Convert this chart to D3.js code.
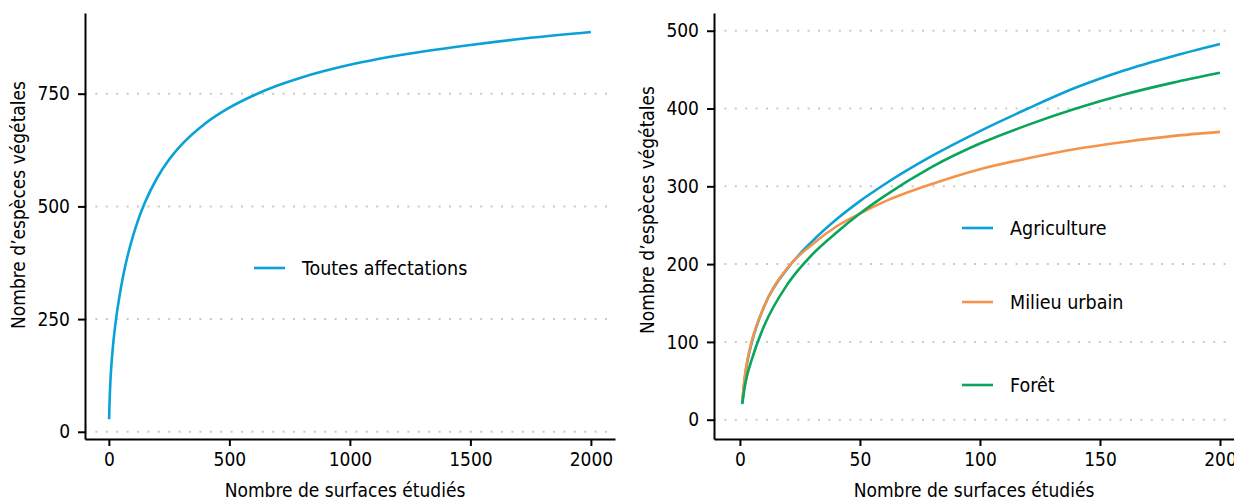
<!DOCTYPE html>
<html>
<head>
<meta charset="utf-8">
<script src="https://cdn.jsdelivr.net/npm/d3@7"></script>
<style>
  body { margin: 0; background: #fff; overflow: hidden; }
  svg { display: block; font-family: "Liberation Sans Narrow", "DejaVu Sans Condensed", sans-serif; }
  .tick text { font-size: 19px; fill: #000; }
  .axis-label { font-size: 19px; fill: #000; }
  .legend-text { font-size: 19.5px; fill: #000; }
</style>
</head>
<body>
<div id="chart"></div>
<script>
// Left panel: all land uses together
const allN = [1, 2, 4, 7, 10, 15, 20, 30, 40, 50, 62, 80, 100, 125, 150, 200, 250, 300, 400, 500, 600, 700, 800, 1000, 1250, 1500, 1750, 2000];
const allSpecies = [28, 50, 83, 118, 144, 178, 206, 251, 287, 319, 353, 395, 434, 475, 509, 563, 604, 636, 684, 719, 746, 768, 786, 814, 839, 858, 874, 887];

// Right panel: by land use
const useN = [1, 2, 3, 5, 10, 20, 30, 40, 50, 60, 80, 100, 120, 140, 160, 180, 200];
const agriculture = [22, 53, 73, 100, 145, 195, 229, 257, 281, 302, 339, 371, 400, 427, 449, 467, 483];
const urbain = [24, 55, 75, 102, 145, 196, 225, 248, 265, 280, 303, 322, 336, 348, 357, 364.5, 370];
const foret = [20, 42, 57, 78, 120, 175, 212, 240, 265, 287, 325, 355, 379, 400, 418, 433, 446];

const leftTicksX = [0, 500, 1000, 1500, 2000];
const leftTicksY = [0, 250, 500, 750];
const rightTicksX = [0, 50, 100, 150, 200];
const rightTicksY = [0, 100, 200, 300, 400, 500];

const seriesNames = ["Agriculture", "Milieu urbain", "Forêt"];
const colors = { all: "#0aa1d7", "Agriculture": "#0aa1d7", "Milieu urbain": "#f6934a", "Forêt": "#0aa55a" };

const width = 1234;
const height = 501;

const svg = d3.select("#chart")
    .append("svg")
    .attr("width", width)
    .attr("height", height);

// Draw one panel: grid, axes, titles; returns the scales
function panel(x0, x1, xDomain, yDomain, xTicks, yTicks, xTitleX, yTitleY) {
    const top = 13, bottom = 439;
    const x = d3.scaleLinear().domain(xDomain).range([x0, x1]);
    const y = d3.scaleLinear().domain(yDomain).range([bottom, top]);

    // dotted horizontal grid
    svg.append("g")
        .selectAll("line")
        .data(yTicks)
        .join("line")
        .attr("x1", x0)
        .attr("x2", x1)
        .attr("y1", d => y(d))
        .attr("y2", d => y(d))
        .attr("stroke", "#c9c9c9")
        .attr("stroke-width", 2)
        .attr("stroke-dasharray", "2 8.4");

    const ax = svg.append("g")
        .attr("transform", `translate(0, ${bottom})`)
        .call(d3.axisBottom(x).tickValues(xTicks).tickFormat(d3.format("d"))
            .tickSize(7).tickPadding(7).tickSizeOuter(0));
    const ay = svg.append("g")
        .attr("transform", `translate(${x0}, 0)`)
        .call(d3.axisLeft(y).tickValues(yTicks).tickFormat(d3.format("d"))
            .tickSize(7).tickPadding(8).tickSizeOuter(0));
    [ax, ay].forEach(g => {
        g.select(".domain").attr("stroke", "#000").attr("stroke-width", 2);
        g.selectAll(".tick line").attr("stroke", "#000").attr("stroke-width", 2);
        g.attr("font-family", null).attr("font-size", null);
    });

    // axis titles
    svg.append("text")
        .attr("class", "axis-label")
        .attr("x", xTitleX)
        .attr("y", 497)
        .attr("text-anchor", "middle")
        .text("Nombre de surfaces étudiés");
    svg.append("text")
        .attr("class", "axis-label")
        .attr("transform", `translate(${x0 - 60}, ${yTitleY}) rotate(-90)`)
        .attr("text-anchor", "middle")
        .text("Nombre d’espèces végétales");

    return { x, y };
}

const left = panel(85, 615, [-99, 2100], [-16, 929], leftTicksX, leftTicksY, 345, 205);
const right = panel(714, 1244, [-10.8, 210], [-24.8, 522.8], rightTicksX, rightTicksY, 974, 210);

const line = (s, xs) => d3.line()
    .x((d, i) => s.x(xs[i]))
    .y(d => s.y(d))
    .curve(d3.curveMonotoneX);

svg.append("path")
    .datum(allSpecies)
    .attr("d", line(left, allN))
    .attr("fill", "none")
    .attr("stroke", colors.all)
    .attr("stroke-width", 2.6);

const rightSeries = [agriculture, urbain, foret];
svg.append("g")
    .selectAll("path")
    .data(rightSeries)
    .join("path")
    .attr("d", d => line(right, useN)(d))
    .attr("fill", "none")
    .attr("stroke", (d, i) => colors[seriesNames[i]])
    .attr("stroke-width", 2.6);

// legends
function legendItem(xLine, yLine, label, color) {
    svg.append("line")
        .attr("x1", xLine).attr("x2", xLine + 31)
        .attr("y1", yLine).attr("y2", yLine)
        .attr("stroke", color).attr("stroke-width", 2.6);
    svg.append("text")
        .attr("class", "legend-text")
        .attr("x", xLine + 48)
        .attr("y", yLine + 7)
        .text(label);
}
legendItem(254, 268, "Toutes affectations", colors.all);
const legendY = [228, 302, 385];
seriesNames.forEach((n, i) => legendItem(962, legendY[i], n, colors[n]));
</script>
</body>
</html>
